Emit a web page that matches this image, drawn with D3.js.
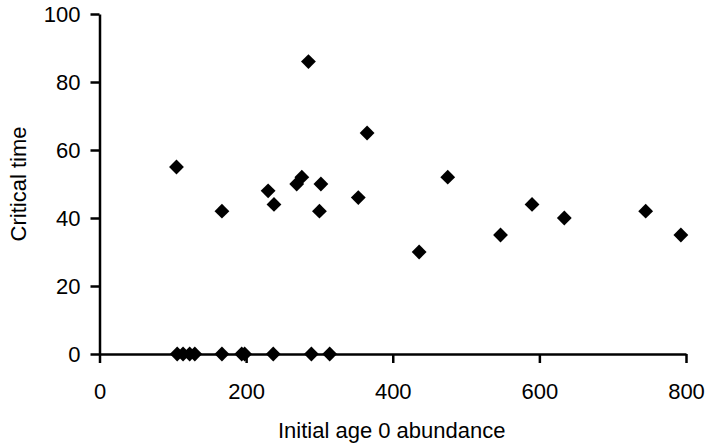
<!DOCTYPE html>
<html>
<head>
<meta charset="utf-8">
<script src="https://cdn.jsdelivr.net/npm/d3@7"></script>
<style>
  body { margin: 0; background: #fff; }
  text { font-family: "Liberation Sans", Arial, sans-serif; fill: #000; }
</style>
</head>
<body>
<div id="chart"></div>
<script>
// Data
var abundance = [105, 167, 230, 238, 269, 276, 285, 300, 302, 353, 365, 436, 475, 547, 590, 634, 745, 793,
                 106, 114, 123, 130, 167, 194, 198, 237, 289, 314];
var criticalTime = [55, 42, 48, 44, 50, 52, 86, 42, 50, 46, 65, 30, 52, 35, 44, 40, 42, 35,
                    0, 0, 0, 0, 0, 0, 0, 0, 0, 0];
var xTicks = [0, 200, 400, 600, 800];
var yTicks = [0, 20, 40, 60, 80, 100];

var points = abundance.map(function (d, i) { return { x: d, y: criticalTime[i] }; });

// Set the dimensions and margins of the graph
var margin = { top: 14, right: 22, bottom: 93, left: 99.5 },
  width = 708 - margin.left - margin.right,
  height = 447 - margin.top - margin.bottom;

var svg = d3.select("#chart")
  .append("svg")
  .attr("width", 708)
  .attr("height", 447)
  .append("g")
  .attr("transform", "translate(" + margin.left + "," + margin.top + ")");

var x = d3.scaleLinear().domain([0, 800]).range([0, width]);
var y = d3.scaleLinear().domain([0, 100]).range([height, 0]);

// X axis
var xAxis = svg.append("g")
  .attr("transform", "translate(0," + height + ")")
  .call(d3.axisBottom(x).tickValues(xTicks).tickSize(9).tickPadding(20).tickSizeOuter(0));

// Y axis
var yAxis = svg.append("g")
  .call(d3.axisLeft(y).tickValues(yTicks).tickSize(9).tickPadding(10).tickSizeOuter(0));

[xAxis, yAxis].forEach(function (a) {
  a.select(".domain").attr("stroke", "#000").attr("stroke-width", 2.5);
  a.selectAll(".tick line").attr("stroke", "#000").attr("stroke-width", 2.5);
  a.selectAll(".tick text").style("font-size", "22px").attr("fill", "#000");
});

// Axis titles
svg.append("text")
  .attr("x", width / 2 - 1)
  .attr("y", height + 84)
  .attr("text-anchor", "middle")
  .style("font-size", "22px")
  .text("Initial age 0 abundance");

svg.append("text")
  .attr("transform", "rotate(-90)")
  .attr("x", -height / 2)
  .attr("y", -73.5)
  .attr("text-anchor", "middle")
  .style("font-size", "22px")
  .text("Critical time");

// Diamond markers
var diamond = d3.symbol().type(d3.symbolSquare).size(110);
svg.selectAll(".pt")
  .data(points)
  .enter()
  .append("path")
  .attr("class", "pt")
  .attr("d", diamond)
  .attr("transform", function (d) { return "translate(" + x(d.x) + "," + y(d.y) + ") rotate(45)"; })
  .attr("fill", "#000");
</script>
</body>
</html>
